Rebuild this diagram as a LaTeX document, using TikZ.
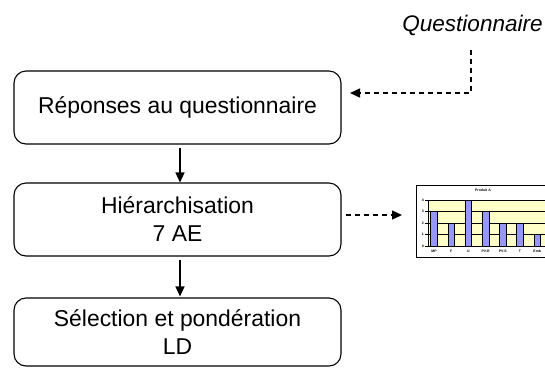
\documentclass[tikz,border=0pt]{standalone}
\usepackage{fontspec}
\setmainfont{Liberation Sans}
\usetikzlibrary{arrows.meta}
\definecolor{plotyellow}{RGB}{255,255,200}
\definecolor{barblue}{RGB}{150,150,255}
\tikzset{
  box/.style={draw, line width=1.1bp, rounded corners=12bp, minimum width=327bp,
    inner sep=0pt, align=center, font=\fontsize{23}{28}\selectfont},
  flow/.style={line width=1.4bp, -{Triangle[width=9bp,length=10bp]}},
  dflow/.style={line width=1.4bp, dash pattern=on 5bp off 4bp, -{Triangle[width=9bp,length=10bp]}},
  tinytext/.style={font=\fontsize{3.5}{4}\selectfont\bfseries, inner sep=0pt}
}
\begin{document}
\begin{tikzpicture}[x=1bp, y=-1bp]
\useasboundingbox (0,0) rectangle (545,368);
% main boxes
\node[box, minimum height=73bp] (b1) at (177.5,107.5) {Réponses au questionnaire};
\node[box, minimum height=73bp] (b2) at (177.5,219.5) {Hiérarchisation\\7 AE};
\node[box, minimum height=68bp] (b3) at (177.5,332) {Sélection et pondération\\LD};
% questionnaire label
\node[font=\fontsize{22.6}{27}\selectfont\itshape, inner sep=0pt] (q) at (472.5,25) {Questionnaire};
% connectors
\draw[flow] ([xshift=2.5bp,yshift=-3bp]b1.south) -- ([xshift=2.5bp]b2.north);
\draw[flow] ([xshift=2.5bp,yshift=-3bp]b2.south) -- ([xshift=2.5bp,yshift=1bp]b3.north);
\coordinate (qs) at (471,50);
\coordinate (qc) at (471,93);
\coordinate (b1e) at (350,93);
\draw[dflow] (qs) -- (qc) -- (b1e);
% chart
\node[draw=none, minimum width=140bp, minimum height=72bp, inner sep=0pt] (chart) at (486,221) {};
\coordinate (b2e) at (346,215);
\coordinate (cw) at (402,215);
\draw[dflow] (b2e) -- (cw);
\fill[white] (416,185) rectangle (560,257);
\draw[line width=0.9bp] (416,185) rectangle (560,257);
\fill[plotyellow] (428,200) rectangle (560,246);
\foreach \v in {0,...,4} {
  \draw[line width=0.7bp] (425,246-11.5*\v) -- (560,246-11.5*\v);
  \node[tinytext, anchor=east] at (424,246-11.5*\v) {\v};
}
\draw[line width=0.7bp] (428,200) -- (428,246);
\foreach \i/\v/\l in {0/3/MP,1/2/F,2/4/U,3/3/PV-R,4/2/PV-S,5/2/T,6/1/Emb} {
  \filldraw[fill=barblue, draw=black, line width=0.6bp]
    (434+17.2*\i-3.3,246) rectangle (434+17.2*\i+3.3,246-11.5*\v);
  \node[tinytext] at (434+17.2*\i,251.5) {\l};
}
\node[tinytext] at (483,190) {Produit A};
\end{tikzpicture}
\end{document}
